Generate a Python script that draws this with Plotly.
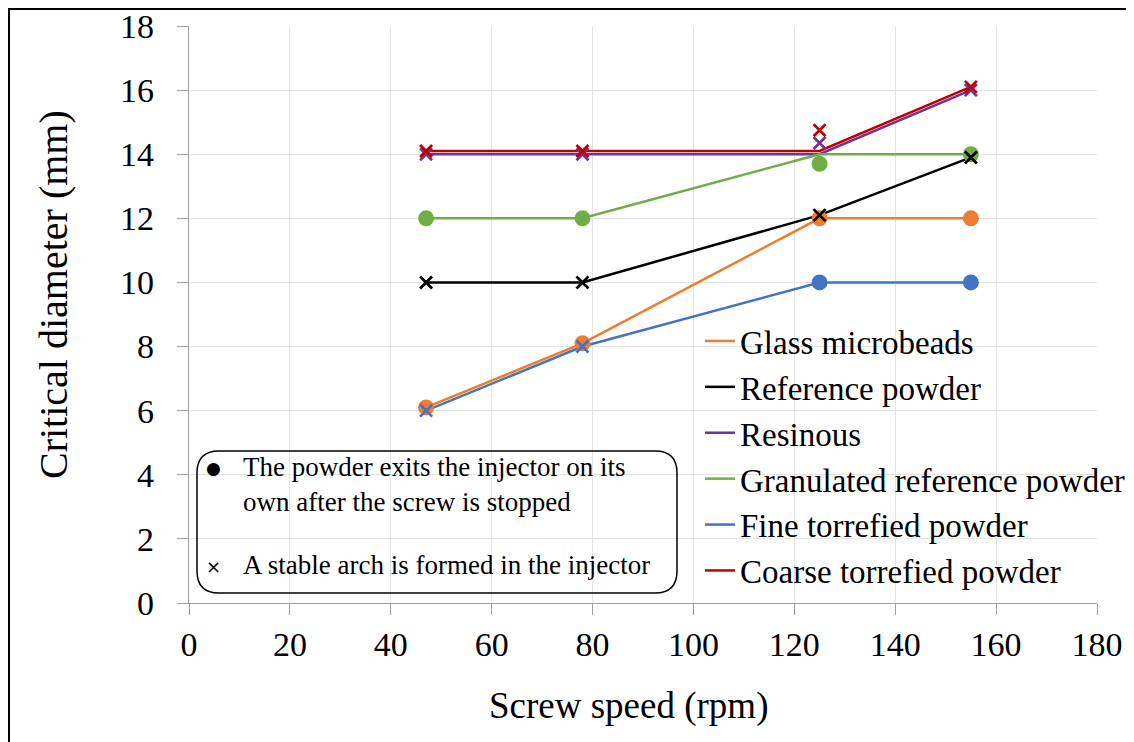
import plotly.graph_objects as go

# ---------------- data ----------------
speeds = [47, 78, 125, 155]

series_names = [
    "Glass microbeads",
    "Reference powder",
    "Resinous",
    "Granulated reference powder",
    "Fine torrefied powder",
    "Coarse torrefied powder",
]
series_colors = ["#ED7D31", "#000000", "#7030A0", "#70AD47", "#4472C4", "#C00000"]

# values along the connecting lines
glass_line = [6.1, 8.1, 12.0, 12.0]
reference_line = [10.0, 10.0, 12.1, 13.9]
resinous_line = [14.0, 14.0, 14.0, 16.0]
granulated_line = [12.0, 12.0, 14.0, 14.0]
fine_line = [6.0, 8.0, 10.0, 10.0]
coarse_line = [14.1, 14.1, 14.1, 16.1]

# measured points (markers)
glass_pts = [6.1, 8.1, 12.0, 12.0]
reference_pts = [10.0, 10.0, 12.1, 13.9]
resinous_pts = [14.0, 14.0, 14.35, 16.0]
granulated_pts = [12.0, 12.0, 13.7, 14.0]
fine_pts = [6.0, 8.0, 10.0, 10.0]
coarse_pts = [14.1, 14.1, 14.75, 16.1]

# "o" = powder exits on its own, "x" = stable arch formed
glass_kind = ["o", "o", "o", "o"]
reference_kind = ["x", "x", "x", "x"]
resinous_kind = ["x", "x", "x", "x"]
granulated_kind = ["o", "o", "o", "o"]
fine_kind = ["x", "x", "o", "o"]
coarse_kind = ["x", "x", "x", "x"]

x_ticks = [0, 20, 40, 60, 80, 100, 120, 140, 160, 180]
y_ticks = [0, 2, 4, 6, 8, 10, 12, 14, 16, 18]

x_title = "Screw speed (rpm)"
y_title = "Critical diameter (mm)"
note_circle = "The powder exits the injector on its<br>own after the screw is stopped"
note_cross = "A stable arch is formed in the injector"

lines = [glass_line, reference_line, resinous_line, granulated_line, fine_line, coarse_line]
pts = [glass_pts, reference_pts, resinous_pts, granulated_pts, fine_pts, coarse_pts]
kinds = [glass_kind, reference_kind, resinous_kind, granulated_kind, fine_kind, coarse_kind]

# ---------------- layout geometry ----------------
OFF = 8  # page body margin
W, H = 1134 - OFF, 742 - OFF
L, T = 189 - OFF, 26 - OFF
PW, PH = 908, 577
R, B = W - L - PW, H - T - PH
FONT = "Liberation Serif, Times New Roman, serif"


def px(x):
    """screen pixel x -> paper x"""
    return (x - OFF - L) / PW


def py(y):
    """screen pixel y -> paper y"""
    return 1 - (y - OFF - T) / PH


fig = go.Figure()

# lines (legend entries)
for name, col, yv in zip(series_names, series_colors, lines):
    fig.add_trace(go.Scatter(
        x=speeds, y=yv, mode="lines", name=name,
        line=dict(color=col, width=2.5), hoverinfo="skip",
    ))

# circle markers first, then crosses on top
for name, col, yv, kd in zip(series_names, series_colors, pts, kinds):
    xs = [s for s, k in zip(speeds, kd) if k == "o"]
    ys = [v for v, k in zip(yv, kd) if k == "o"]
    if xs:
        fig.add_trace(go.Scatter(
            x=xs, y=ys, mode="markers", showlegend=False, name=name,
            marker=dict(symbol="circle", size=16, color=col),
        ))
for name, col, yv, kd in zip(series_names, series_colors, pts, kinds):
    xs = [s for s, k in zip(speeds, kd) if k == "x"]
    ys = [v for v, k in zip(yv, kd) if k == "x"]
    if xs:
        fig.add_trace(go.Scatter(
            x=xs, y=ys, mode="markers", showlegend=False, name=name,
            marker=dict(symbol="x-thin", size=12, color=col,
                        line=dict(color=col, width=2.7)),
        ))

axis_common = dict(
    showgrid=True, gridcolor="#e4e4e4", gridwidth=1,
    showline=True, linecolor="#a0a0a0", linewidth=1.2,
    ticks="outside", ticklen=11, tickcolor="#a0a0a0", tickwidth=1.2,
    tickfont=dict(family=FONT, size=34, color="#000000"),
    zeroline=False, fixedrange=True, automargin=False,
    ticklabeloverflow="allow",
)
fig.update_xaxes(range=[0, 180], tickvals=x_ticks, ticktext=[str(v) for v in x_ticks],
                 ticklabelstandoff=0, **axis_common)
fig.update_yaxes(range=[0, 18], tickvals=y_ticks, ticktext=[str(v) for v in y_ticks],
                 ticklabelstandoff=16, **axis_common)

# rounded note box
bx0, bx1, by0, by1 = px(197), px(677), py(593), py(451)
rx, ry = 22 / PW, 22 / PH
path = (f"M {bx0+rx},{by1} L {bx1-rx},{by1} Q {bx1},{by1} {bx1},{by1-ry} "
        f"L {bx1},{by0+ry} Q {bx1},{by0} {bx1-rx},{by0} L {bx0+rx},{by0} "
        f"Q {bx0},{by0} {bx0},{by0+ry} L {bx0},{by1-ry} Q {bx0},{by1} {bx0+rx},{by1} Z")

shapes = [
    # white backing of the legend: hides gridlines but not data lines
    dict(type="rect", xref="paper", yref="paper",
         x0=px(698), x1=px(1134), y0=py(592), y1=py(320),
         line=dict(width=0), fillcolor="#ffffff", layer="between"),
    dict(type="path", xref="paper", yref="paper", path=path,
         line=dict(color="#000000", width=1.5), fillcolor="rgba(0,0,0,0)", layer="above"),
    # outer frame: top and left edges
    dict(type="line", xref="paper", yref="paper",
         x0=px(OFF), x1=px(1140), y0=py(OFF + 1), y1=py(OFF + 1),
         line=dict(color="#000000", width=2), layer="above"),
    dict(type="line", xref="paper", yref="paper",
         x0=px(OFF + 1), x1=px(OFF + 1), y0=py(OFF), y1=py(750),
         line=dict(color="#000000", width=2), layer="above"),
]

annotations = [
    dict(text=x_title, xref="paper", yref="paper", x=px(628), y=py(706),
         xanchor="center", yanchor="middle", showarrow=False,
         font=dict(family=FONT, size=37, color="#000000")),
    dict(text=y_title, xref="paper", yref="paper", x=px(53), y=py(295),
         xanchor="center", yanchor="middle", showarrow=False, textangle=-90,
         font=dict(family=FONT, size=40, color="#000000")),
    dict(text="●", xref="paper", yref="paper", x=px(213), y=py(468),
         xanchor="center", yanchor="middle", showarrow=False,
         font=dict(family="DejaVu Sans", size=17, color="#000000")),
    dict(text=note_circle, xref="paper", yref="paper", x=px(241), y=py(484),
         xanchor="left", yanchor="middle", align="left", showarrow=False,
         font=dict(family=FONT, size=27, color="#000000")),
    dict(text="×", xref="paper", yref="paper", x=px(213), y=py(566),
         xanchor="center", yanchor="middle", showarrow=False,
         font=dict(family="DejaVu Sans", size=18, color="#000000")),
    dict(text=note_cross, xref="paper", yref="paper", x=px(241), y=py(565),
         xanchor="left", yanchor="middle", align="left", showarrow=False,
         font=dict(family=FONT, size=27, color="#000000")),
]

fig.update_layout(
    width=W, height=H,
    margin=dict(l=L, r=R, t=T, b=B, pad=0, autoexpand=False),
    paper_bgcolor="#ffffff", plot_bgcolor="#ffffff",
    showlegend=True,
    legend=dict(x=px(700), y=py(313), xanchor="left", yanchor="top",
                bgcolor="rgba(0,0,0,0)", borderwidth=0, itemwidth=30,
                font=dict(family=FONT, size=33, color="#000000"),
                tracegroupgap=0),
    shapes=shapes, annotations=annotations,
)

fig.write_html("out.html")
